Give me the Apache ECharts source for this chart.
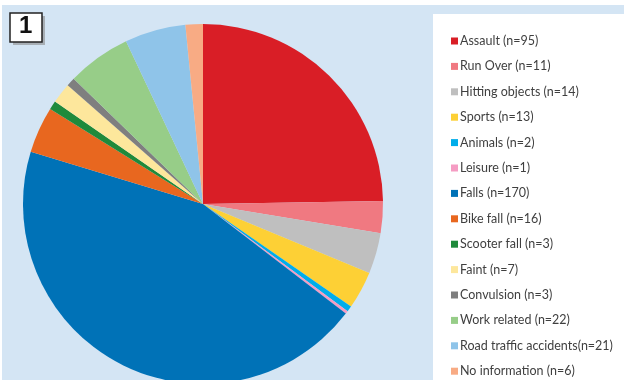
<!DOCTYPE html>
<html><head><meta charset="utf-8">
<script src="https://cdn.jsdelivr.net/npm/echarts@6/dist/echarts.min.js"></script>
<style>html,body{margin:0;padding:0;background:#fff}#c{width:624px;height:380px}</style>
</head><body><div id="c"></div>
<script>
const categories = ['Assault (n=95)','Run Over (n=11)','Hitting objects (n=14)','Sports (n=13)','Animals (n=2)','Leisure (n=1)','Falls (n=170)','Bike fall (n=16)','Scooter fall (n=3)','Faint (n=7)','Convulsion (n=3)','Work related (n=22)','Road traffic accidents(n=21)','No information (n=6)'];
const values = [95,11,14,13,2,1,170,16,3,7,3,22,21,6];
const colors = ['#d91e26','#f07981','#bfbfbf','#fdd035','#00adea','#f59cc3','#0072b7','#e8671f','#1f8a3b','#fde79c','#7f7f7f','#97cd88','#8fc4e9','#f8ab84'];

const legendBase = {
  orient:'vertical', left:451, padding:0,
  itemWidth:7, itemHeight:7, itemGap:11.4, icon:'rect',
  textStyle:{fontFamily:'Lato, "Open Sans", sans-serif', fontSize:12.5, color:'#3f3f3f', lineHeight:14, padding:[0,0,0,-3]}
};

const chart = echarts.init(document.getElementById('c'), null, {renderer:'canvas'});
chart.setOption({
  animation:false,
  color: colors,
  graphic:[
    {type:'rect', z:-10, shape:{x:2,y:5,width:622,height:375}, style:{fill:'#d4e5f4'}},
    {type:'rect', z:-9, shape:{x:433,y:14,width:191,height:366}, style:{fill:'#ffffff'}},
    {type:'rect', z:10, shape:{x:13,y:16,width:32,height:29}, style:{fill:'#8a8a8a', opacity:0.6}},
    {type:'rect', z:11, shape:{x:10,y:13,width:32,height:29}, style:{fill:'#ffffff', stroke:'#222', lineWidth:1.5}},
    {type:'text', z:12, left:19, top:14, style:{text:'1', font:'bold 24px "Liberation Sans", Arial', fill:'#111'}}
  ],
  legend:[
    Object.assign({}, legendBase, {top:34, data: categories.slice(0,7)}),
    Object.assign({}, legendBase, {top:34+7*25.4, data: categories.slice(7)})
  ],
  series:[{
    type:'pie', center:[203,204], radius:180, startAngle:90, clockwise:true,
    label:{show:false}, labelLine:{show:false},
    itemStyle:{borderWidth:0},
    emphasis:{disabled:true},
    data: categories.map((n,i)=>({name:n, value:values[i]}))
  }]
});
</script></body></html>
